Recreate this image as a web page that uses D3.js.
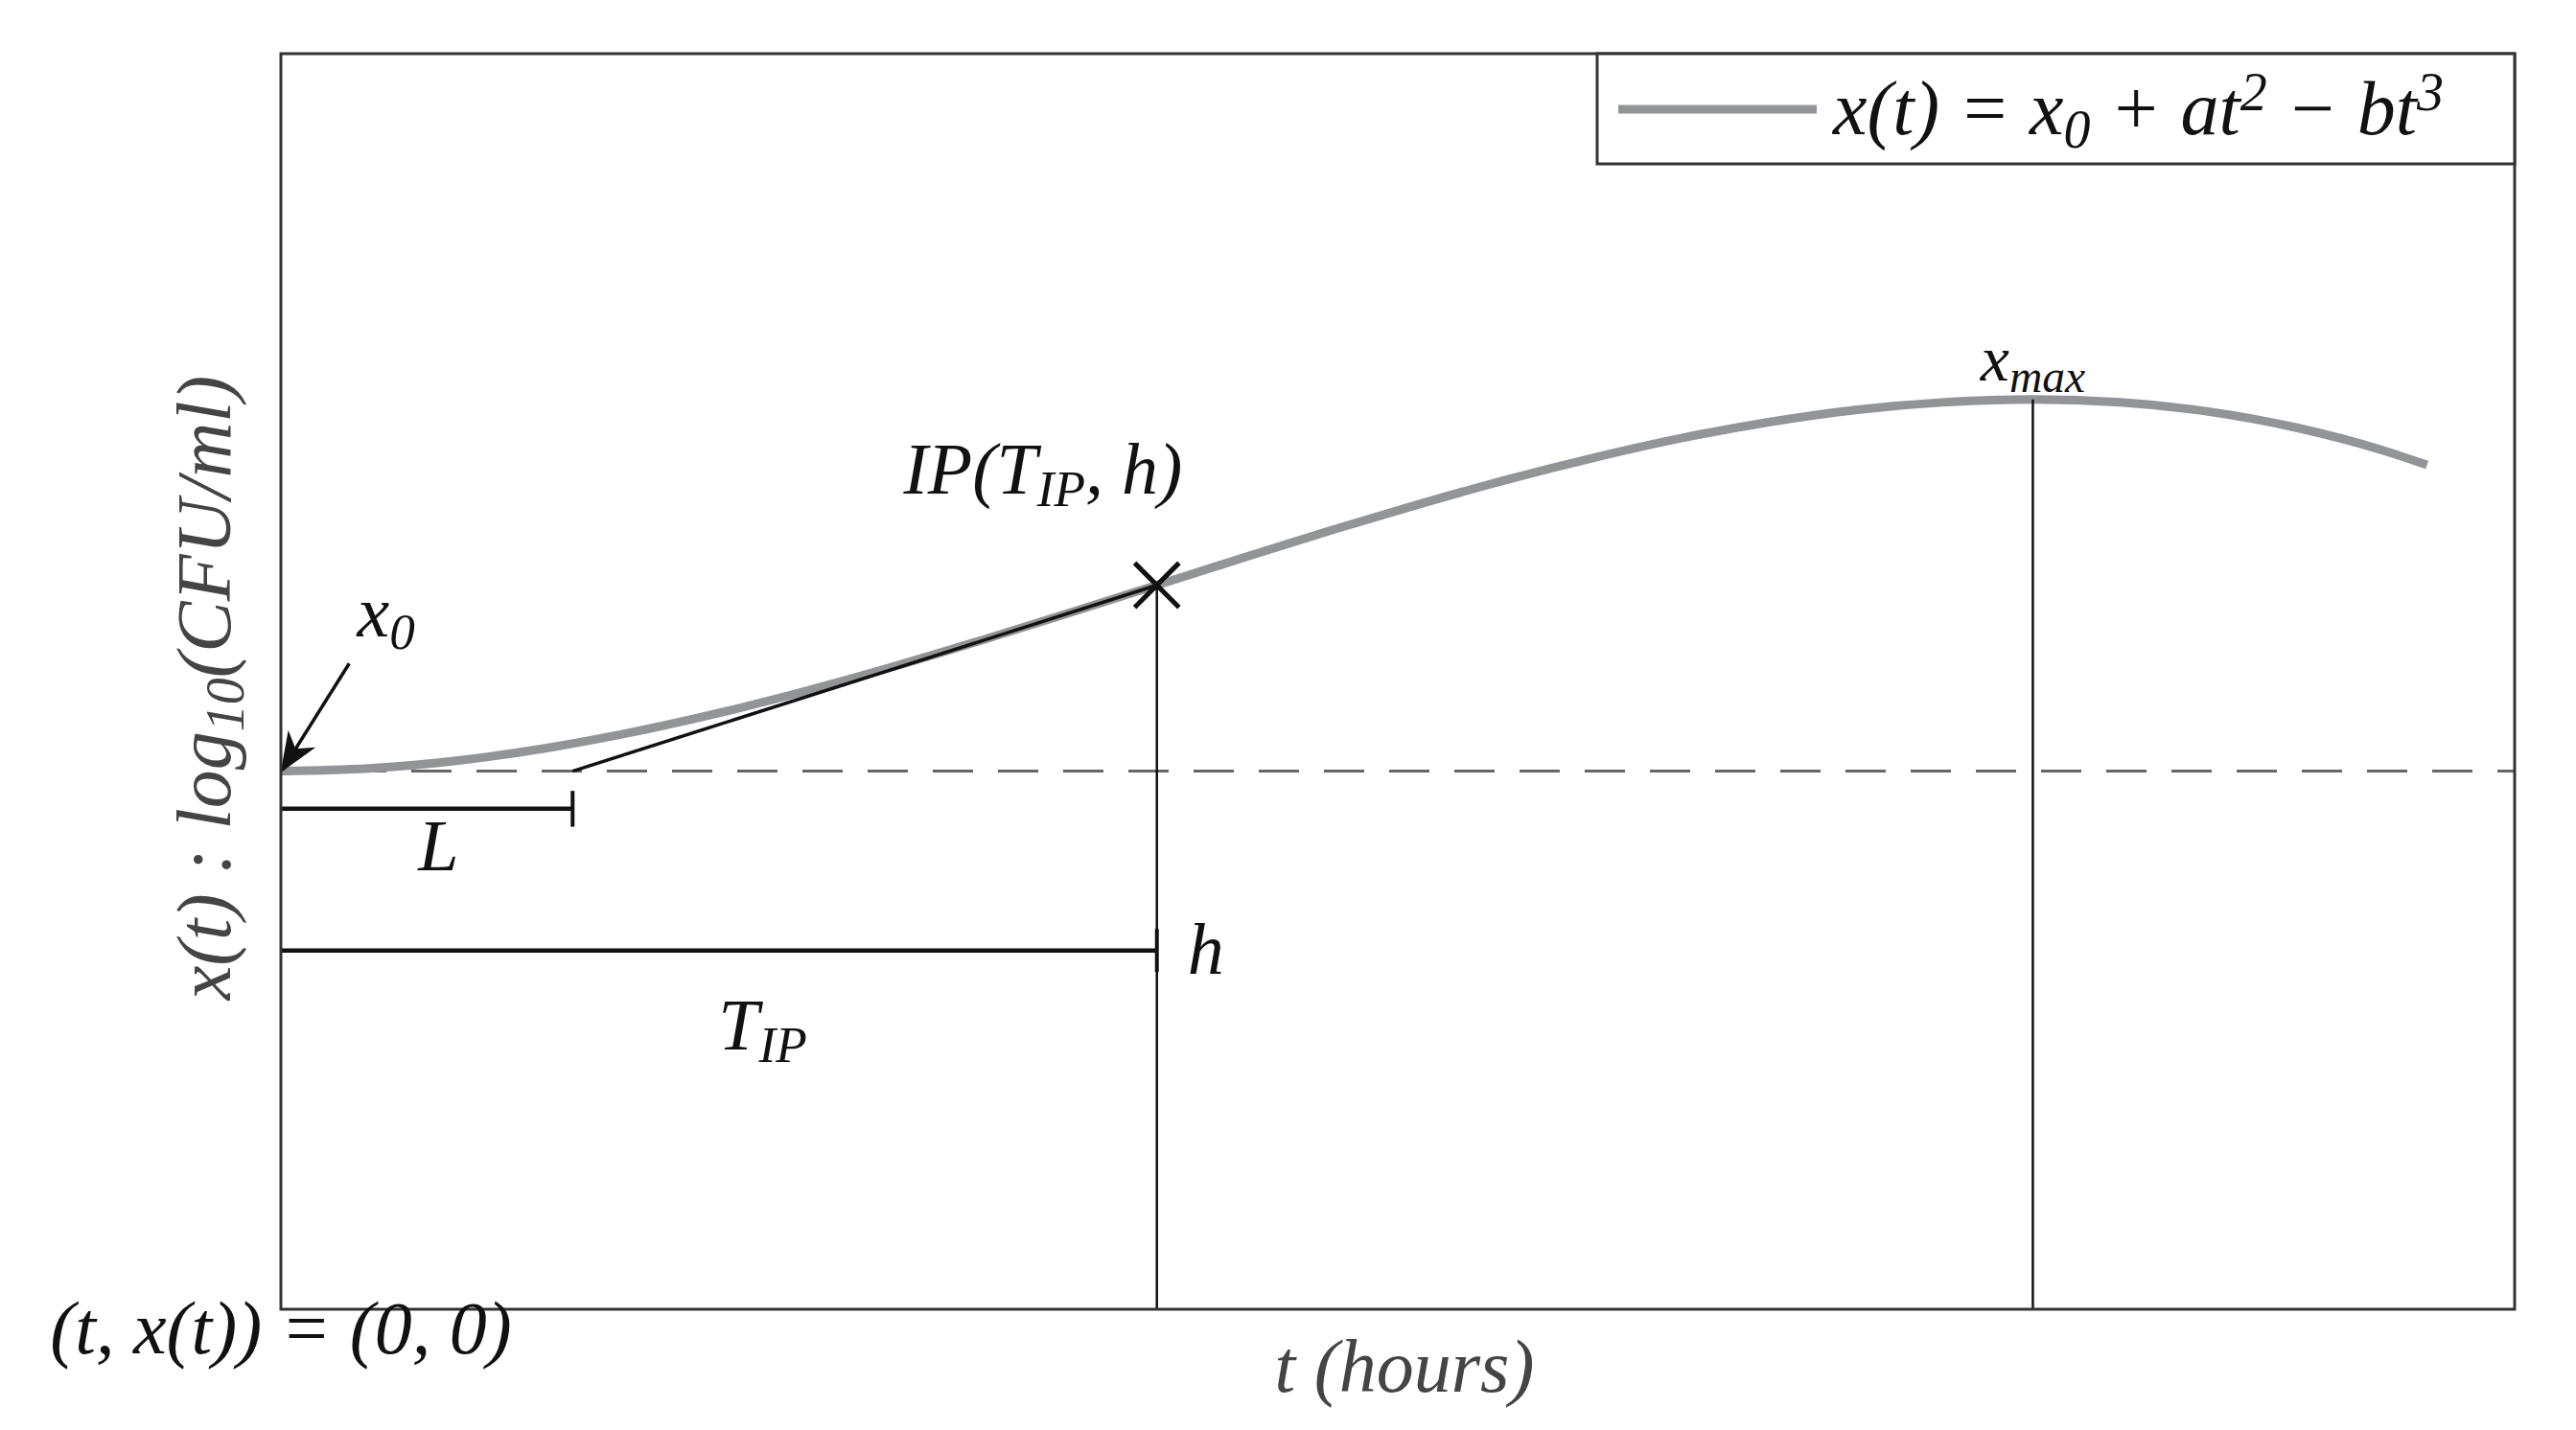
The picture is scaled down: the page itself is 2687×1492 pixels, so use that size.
<!DOCTYPE html>
<html><head><meta charset="utf-8">
<script src="https://cdn.jsdelivr.net/npm/d3@7"></script>
<style>body{margin:0;background:#fff}svg text{font-family:"Liberation Serif","DejaVu Serif",serif;font-style:italic}</style>
</head><body><div id="chart"></div>
<script>
// growth curve x(t) = x0 + a t^2 - b t^3
var tValues = [0,0.1,0.2,0.3,0.4,0.5,0.6,0.7,0.8,0.9,1.0,1.1,1.2,1.3,1.4,1.5,1.6,1.7,1.8,1.9,2.0,2.1,2.2,2.3,2.4,2.45];
var xValues = [3.000,3.015,3.058,3.126,3.216,3.324,3.448,3.584,3.730,3.882,4.037,4.192,4.344,4.489,4.626,4.749,4.858,4.947,5.015,5.057,5.072,5.056,5.005,4.916,4.788,4.707];
var x0 = 3.0;
var ip = [1.0, 4.037];
var xmax = [2.0, 5.072];
var lagEnd = 0.333;
var lagBarY = 2.79;
var ipBarY = 2.0;

var W = 2687, H = 1492;
var margin = {top: 56, right: 64, bottom: 126, left: 293};
var w = W - margin.left - margin.right, h = H - margin.top - margin.bottom;

var svg = d3.select('#chart').append('svg').attr('width', W).attr('height', H);
svg.append('defs').append('marker').attr('id', 'arr')
    .attr('viewBox', '0 0 10 10').attr('refX', 9).attr('refY', 5)
    .attr('markerWidth', 14).attr('markerHeight', 14).attr('markerUnits', 'userSpaceOnUse')
    .attr('orient', 'auto')
    .append('path').attr('d', 'M0,1 L10,5 L0,9 L3,5 Z').attr('fill', '#111');
svg.select('marker').attr('markerWidth', 42).attr('markerHeight', 42);

var g = svg.append('g').attr('transform', 'translate(' + margin.left + ',' + margin.top + ')');
var xs = d3.scaleLinear().domain([0, 2.55]).range([0, w]);
var ys = d3.scaleLinear().domain([0, 7]).range([h, 0]);

// dashed x0 level
g.append('line').attr('x1', 0).attr('x2', w).attr('y1', ys(x0)).attr('y2', ys(x0))
    .attr('stroke', '#666').attr('stroke-width', 3).attr('stroke-dasharray', '42,26');

// curve
g.append('path').datum(d3.zip(tValues, xValues))
    .attr('d', d3.line().x(function(d) { return xs(d[0]); }).y(function(d) { return ys(d[1]); }).curve(d3.curveMonotoneX))
    .attr('fill', 'none').attr('stroke', '#939497').attr('stroke-width', 9);

// tangent at inflection point
g.append('line').attr('x1', xs(lagEnd)).attr('y1', ys(x0)).attr('x2', xs(ip[0])).attr('y2', ys(ip[1]))
    .attr('stroke', '#111').attr('stroke-width', 3.5);

// vertical lines
[ip, xmax].forEach(function(p) {
    g.append('line').attr('x1', xs(p[0])).attr('x2', xs(p[0])).attr('y1', ys(0)).attr('y2', ys(p[1]))
        .attr('stroke', '#111').attr('stroke-width', 2.5);
});

// brackets L and T_IP
[[lagEnd, lagBarY, 0.1], [ip[0], ipBarY, 0.12]].forEach(function(b) {
    g.append('line').attr('x1', xs(0)).attr('x2', xs(b[0])).attr('y1', ys(b[1])).attr('y2', ys(b[1]))
        .attr('stroke', '#111').attr('stroke-width', 4.5);
    g.append('line').attr('x1', xs(b[0])).attr('x2', xs(b[0])).attr('y1', ys(b[1] - b[2])).attr('y2', ys(b[1] + b[2]))
        .attr('stroke', '#111').attr('stroke-width', 4);
});

// X marker at inflection point
g.append('path').attr('d', d3.symbol().type(d3.symbolTimes).size(1400)())
    .attr('transform', 'translate(' + xs(ip[0]) + ',' + ys(ip[1]) + ')')
    .attr('fill', 'none').attr('stroke', '#111').attr('stroke-width', 5);

// arrow to x0
g.append('line').attr('x1', xs(0.078)).attr('y1', ys(3.6)).attr('x2', xs(0.002)).attr('y2', ys(3.01))
    .attr('stroke', '#111').attr('stroke-width', 3.5).attr('marker-end', 'url(#arr)');

// axes box
g.append('rect').attr('width', w).attr('height', h).attr('fill', 'none').attr('stroke', '#333').attr('stroke-width', 3);

function label(parent, x, y, parts, opts) {
    opts = opts || {};
    var t = parent.append('text').attr('x', x).attr('y', y)
        .attr('font-size', opts.size || 76).attr('fill', opts.fill || '#111')
        .attr('text-anchor', opts.anchor || 'middle');
    if (opts.rotate) t.attr('transform', 'rotate(-90,' + x + ',' + y + ')');
    parts.forEach(function(p) {
        var s = t.append('tspan').text(p[0]);
        if (p[1] === 'sub') s.attr('font-size', '70%').attr('baseline-shift', '-25%');
        if (p[1] === 'sup') s.attr('font-size', '70%').attr('baseline-shift', '45%');
    });
    return t;
}

label(g, xs(0.12), ys(3.75), [['x'], ['0', 'sub']]);
label(g, xs(0.18), ys(2.45), [['L']]);
label(g, xs(0.55), ys(1.45), [['T'], ['IP', 'sub']]);
label(g, xs(1.035), ys(1.87), [['h']], {anchor: 'start'});
label(g, xs(0.87), ys(4.55), [['IP('], ['T'], ['IP', 'sub'], [', h)']]);
label(g, xs(2.0), ys(5.18), [['x'], ['max', 'sub']], {size: 68});

// axis labels
label(svg, margin.left - 0, H - 80, [['(t, x(t)) = (0, 0)']], {size: 78});
label(svg, margin.left + w * 0.503, H - 40, [['t ('], ['hours'], [')']], {fill: '#444', size: 78});
label(svg, 240, margin.top + h * 0.505, [['x(t) : log'], ['10', 'sub'], ['(CFU/ml)']], {fill: '#444', rotate: true, size: 80});

// legend
var lg = svg.append('g');
lg.append('rect').attr('x', 1666).attr('y', margin.top).attr('width', margin.left + w - 1666).attr('height', 115)
    .attr('fill', '#fff').attr('stroke', '#333').attr('stroke-width', 3);
lg.append('line').attr('x1', 1688).attr('x2', 1895).attr('y1', 114).attr('y2', 114)
    .attr('stroke', '#939497').attr('stroke-width', 9);
label(lg, 1912, 140, [['x(t) = x'], ['0', 'sub'], [' + at'], ['2', 'sup'], [' − bt'], ['3', 'sup']], {anchor: 'start', size: 80});
</script></body></html>
